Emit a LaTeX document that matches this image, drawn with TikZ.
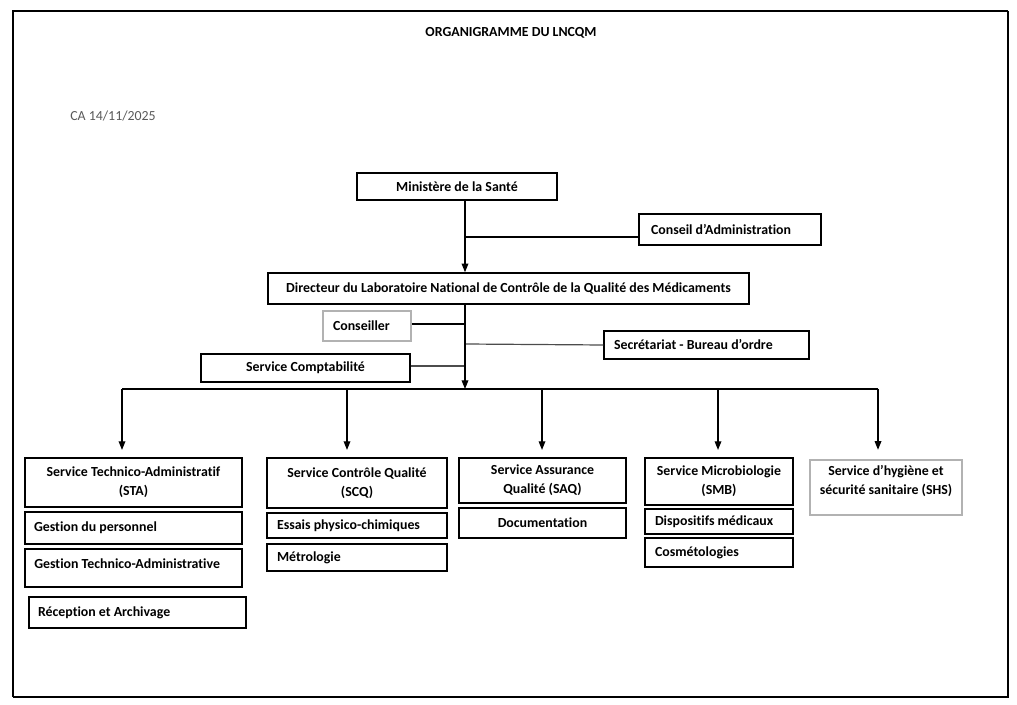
\documentclass[tikz,border=0pt]{standalone}
\usepackage{fontspec}
\setmainfont{Carlito}[Ligatures=NoCommon]
\usetikzlibrary{arrows.meta}
\begin{document}
\begin{tikzpicture}[x=0.75pt,y=-0.75pt,
  box/.style n args={2}{draw, line width=1.1pt, minimum width=#1*0.75pt, minimum height=#2*0.75pt,
    inner sep=0pt, font=\fontsize{10.4}{14.25}\selectfont\bfseries, align=center},
  gbox/.style n args={2}{box={#1}{#2}, draw=black!30, line width=1.3pt},
  txt/.style={inner sep=0pt, font=\fontsize{10.4}{14.25}\selectfont\bfseries, align=center},
  conn/.style={line width=0.9pt},
  gconn/.style={line width=0.9pt, draw=black!70},
  arr/.style={line width=0.9pt, -{Triangle[length=6.5pt,width=5pt]}}]
\useasboundingbox (0,0) rectangle (1017,705);
% frame
\draw[line width=1.9pt] (13,697) -- (13,11) -- (1008,11);
\draw[line width=1.1pt] (1008,11) -- (1008,697) -- (13,697);
% texts
\node[font=\fontsize{10.4}{12}\selectfont\bfseries] (title) at (511,33) {ORGANIGRAMME DU LNCQM};
\node[font=\fontsize{10.4}{12}\selectfont, text=black!65, anchor=west, inner sep=0pt] (ca) at (70,116) {CA 14/11/2025};
% top
\node[box={200}{27}] (m) at (457,186.5) {Ministère de la Santé};
\node[box={182}{31}, text width=118.5pt, align=flush left] (cadm) at (730,229.5) {Conseil d’Administration};
\node[box={481}{31}] (d) at (508.5,288.5) {Directeur du Laboratoire National de Contrôle de la Qualité des Médicaments};
\node[gbox={88}{30}, text width=51pt, align=flush left] (cons) at (367,326) {Conseiller};
\node[box={205}{28}, text width=138.75pt, align=flush left] (sec) at (706.5,345) {Secrétariat - Bureau d’ordre};
\node[box={209}{28}] (comp) at (305.5,368) {Service Comptabilité};
\coordinate (trunk) at (465,0);
\coordinate (bus) at (465,389);
% connectors top
\draw[arr] (m.south -| trunk) -- (d.north -| trunk);
\draw[conn] (cadm.west |- 0,237) -- (trunk |- 0,237);
\draw[conn] (cons.east |- 0,324) -- (trunk |- 0,324);
\draw[gconn] (sec.west |- 0,345) -- (trunk |- 0,344);
\draw[gconn] (comp.east |- 0,366) -- (trunk |- 0,366);
\draw[arr] (d.south -| trunk) -- (bus);
% services
\node[box={217}{49}] (sta) at (133.5,482.5) {Service Technico-Administratif\\(STA)};
\node[box={217}{32}, text width=149.25pt, align=flush left] (gp) at (133.5,528) {Gestion du personnel};
\node[box={217}{38}] (gta) at (133.5,568) {};
\node[txt, anchor=west] (gtaT) at (34,564) {Gestion Technico-Administrative};
\node[box={217}{31}, text width=149.25pt, align=flush left] (rec) at (137.5,612.5) {Réception et Archivage};
\node[box={180}{50}] (scq) at (357,483) {Service Contrôle Qualité\\(SCQ)};
\node[box={180}{25}, text width=120pt, align=flush left] (ess) at (357,525.5) {Essais physico-chimiques};
\node[box={180}{27}, text width=120pt, align=flush left] (met) at (357,557.5) {Métrologie};
\node[box={167}{45}] (saq) at (542.5,480.5) {Service Assurance\\Qualité (SAQ)};
\node[box={167}{30}] (doc) at (542.5,523) {Documentation};
\node[box={148}{47}] (smb) at (719,481.5) {Service Microbiologie\\(SMB)};
\node[box={148}{25}, text width=96pt, align=flush left] (disp) at (719,521.5) {Dispositifs médicaux};
\node[box={148}{29}, text width=96pt, align=flush left] (cosm) at (719,552.5) {Cosmétologies};
\node[gbox={152}{55}] (shs) at (886,487.5) {};
\node[txt] (shsT) at (886,481.5) {Service d’hygiène et\\sécurité sanitaire (SHS)};
% bus and arrows
\coordinate (b1) at (122,389);
\coordinate (b2) at (347,389);
\coordinate (b3) at (542,389);
\coordinate (b4) at (718,389);
\coordinate (b5) at (878,389);
\draw[conn] (b1) -- (b5);
\draw[arr, shorten >=5.5pt] (b1) -- (sta.north -| b1);
\draw[arr, shorten >=5.5pt] (b2) -- (scq.north -| b2);
\draw[arr, shorten >=5.5pt] (b3) -- (saq.north -| b3);
\draw[arr, shorten >=5.5pt] (b4) -- (smb.north -| b4);
\draw[arr, shorten >=7pt] (b5) -- (shs.north -| b5);
\end{tikzpicture}
\end{document}
